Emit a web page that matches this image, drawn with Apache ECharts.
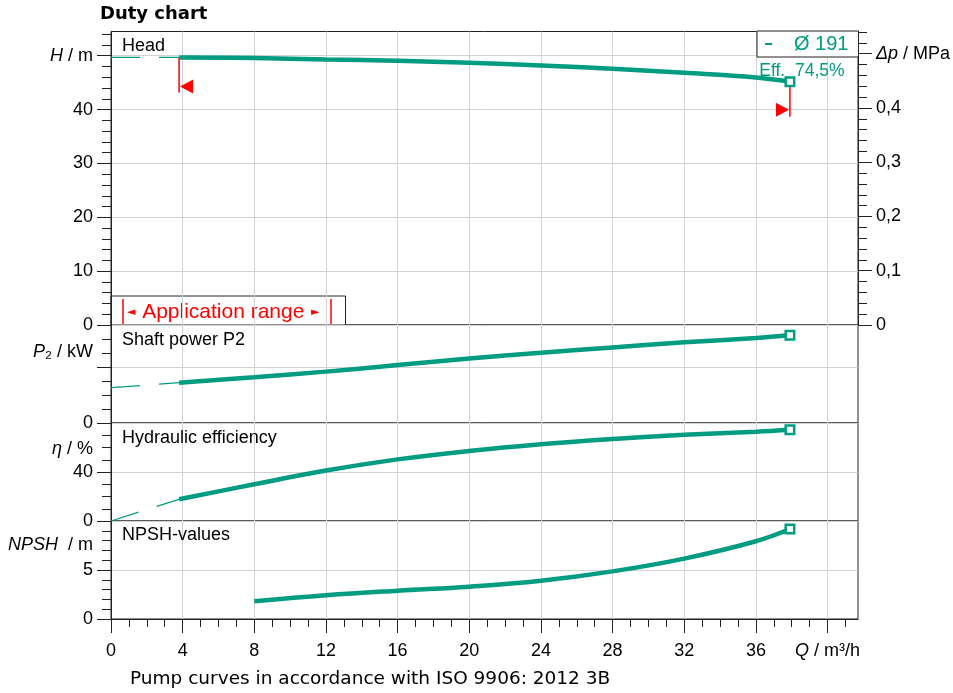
<!DOCTYPE html>
<html>
<head>
<meta charset="UTF-8">
<title>Duty chart</title>
<script src="https://cdn.jsdelivr.net/npm/echarts@6/dist/echarts.min.js"></script>
<style>html,body{margin:0;padding:0;background:#fff;}</style>
</head>
<body>
<div id="chart" style="width:953px;height:693px;"></div>
<script type="text/javascript">
// data
var qTicks = [0, 4, 8, 12, 16, 20, 24, 28, 32, 36, 40];
var hTicks = [0, 10, 20, 30, 40, 50];
var dpTicks = [0, 0.1, 0.2, 0.3, 0.4, 0.5];
var p2Ticks = [0, 4];
var etaTicks = [0, 40];
var npshTicks = [0, 5];

var qLow = [0, 3.8];                 // below application range (thin dashed)
var headLow = [49.68, 49.68];
var powerLow = [2.52, 2.88];
var effLow = [0, 17.7];

var qMain = [3.8, 8, 12, 16, 20, 24, 28, 32, 36, 37.9];
var headH = [49.68, 49.56, 49.31, 49.06, 48.69, 48.2, 47.58, 46.84, 45.97, 45.17];
var powerP2 = [2.88, 3.27, 3.67, 4.14, 4.6, 5.02, 5.4, 5.76, 6.07, 6.26];
var effEta = [17.7, 30.0, 41.2, 50.3, 57.2, 62.7, 67.0, 70.4, 72.9, 74.5];

var qNpsh = [8, 12, 16, 20, 24, 28, 32, 36, 37.9];
var npsh = [1.8, 2.42, 2.89, 3.3, 3.91, 4.86, 6.16, 7.93, 9.18];

// application range limits [Q, H, direction]
var appRange = [[3.8, 49.68, -1], [37.9, 45.17, 1]];

var TEAL = '#009c82';
var FONT = 'Liberation Sans';
var LINE = '#222';

var chart = echarts.init(document.getElementById('chart'));

function pts(xs, ys, endLabel) {
    var res = [];
    for (var i = 0; i < xs.length; i++) {
        res.push([xs[i], ys[i]]);
    }
    if (endLabel !== undefined) {
        var last = res.pop();
        var item = {
            value: last,
            symbol: 'rect',
            symbolSize: 8.5,
            itemStyle: {color: '#fff', borderColor: TEAL, borderWidth: 2.5}
        };
        if (endLabel) {
            item.label = {
                show: true, position: 'top', offset: [12, 9],
                formatter: endLabel, color: TEAL, fontSize: 17.5, fontFamily: FONT
            };
        }
        res.push(item);
    }
    return res;
}

var italic = {fontStyle: 'italic', fontSize: 18, fontFamily: FONT, color: '#000'};
var grids = [
    {top: 31.5, height: 293.5},
    {top: 325, height: 98},
    {top: 423, height: 98},
    {top: 521, height: 98}
];
grids.forEach(function (g) {
    g.left = 111; g.right = 95; g.show = true;
    g.borderColor = LINE; g.borderWidth = 1;
    g.backgroundColor = 'transparent';
    g.outerBoundsMode = 'none';
});

function xAxis(i) {
    var b = (i === 3);
    return {
        type: 'value', gridIndex: i, min: 0, max: 41.7, interval: 4,
        axisLine: {show: b, onZero: false, lineStyle: {color: LINE}},
        axisTick: {show: b, length: 14, customValues: qTicks, lineStyle: {color: LINE}},
        minorTick: {show: b, splitNumber: 4, length: 8, lineStyle: {color: LINE}},
        axisLabel: {
            show: b, customValues: qTicks, margin: 23, fontSize: 18, fontFamily: FONT, color: '#000',
            formatter: function (v) { return v === 40 ? '{i|Q} / m³/h' : String(v); },
            rich: {i: italic}
        },
        splitLine: {show: true, lineStyle: {color: '#d2d2d2'}}
    };
}

function yAxis(i, min, max, interval, minor, ticks, fmt, pos) {
    return {
        type: 'value', gridIndex: i, min: min, max: max, interval: interval,
        position: pos || 'left',
        axisLine: {show: true, lineStyle: {color: LINE}},
        axisTick: {show: true, length: 14, customValues: ticks, lineStyle: {color: LINE}},
        minorTick: {show: true, splitNumber: minor, length: 9, lineStyle: {color: LINE}},
        axisLabel: {
            customValues: ticks, margin: 18, fontSize: 18, fontFamily: FONT, color: '#000',
            formatter: fmt, rich: {i: italic}
        },
        splitLine: {show: pos !== 'right', lineStyle: {color: '#d2d2d2'}}
    };
}

function txt(x, y, text, opts) {
    var st = {
        text: text, fill: '#000', font: '18px ' + FONT,
        align: 'left', textAlign: 'left', verticalAlign: 'middle', textVerticalAlign: 'middle'
    };
    for (var k in opts) st[k] = opts[k];
    return {type: 'text', x: x, y: y, z: 100, style: st};
}

var richItalic = {i: {fontStyle: 'italic', fontSize: 18, fontFamily: FONT, fill: '#000'}};

function curve(xi, yi, data, thin) {
    var s = {
        type: 'line', xAxisIndex: xi, yAxisIndex: yi, data: data, silent: true,
        symbol: 'none', showSymbol: true, color: TEAL, z: 4
    };
    if (thin) {
        s.lineStyle = {color: TEAL, width: 1.3, type: [29, 19]};
    } else {
        s.smooth = 0.4;
        s.lineStyle = {color: TEAL, width: 4.5};
    }
    return s;
}

var headSeries = curve(0, 0, pts(qMain, headH, 'Eff.  74,5%'));
headSeries.name = 'Ø 191';

chart.setOption({
    backgroundColor: '#fff',
    animation: false,
    textStyle: {fontFamily: FONT},
    grid: grids,
    legend: {
        data: ['Ø 191'], left: 757, top: 31, selectedMode: false,
        backgroundColor: '#fff', borderColor: LINE, borderWidth: 1, borderRadius: 0,
        padding: [3, 10, 3, 8], icon: 'rect', itemWidth: 7, itemHeight: 2,
        textStyle: {fontSize: 20, color: TEAL, fontFamily: FONT, padding: [0, 0, 0, 17]}
    },
    xAxis: [xAxis(0), xAxis(1), xAxis(2), xAxis(3)],
    yAxis: [
        yAxis(0, 0, 54.5, 10, 5, hTicks, function (v) { return v === 50 ? '{i|H} / m' : String(v); }),
        yAxis(0, 0, 0.541, 0.1, 5, dpTicks, function (v) {
            if (Math.abs(v - 0.5) < 1e-9) return '{i|Δp} / MPa';
            return v === 0 ? '0' : v.toFixed(1).replace('.', ',');
        }, 'right'),
        yAxis(1, 0, 7, 4, 4, p2Ticks, function (v) { return v === 0 ? '0' : ''; }),
        yAxis(2, 0, 80, 40, 4, etaTicks, function (v) { return String(v); }),
        yAxis(3, 0, 10, 5, 5, npshTicks, function (v) { return String(v); })
    ],
    series: [
        curve(0, 0, pts(qLow, headLow), true),
        headSeries,
        {type: 'custom', xAxisIndex: 0, yAxisIndex: 0, data: appRange, silent: true, z: 3,
            renderItem: function (params, api) {
                var p = api.coord([api.value(0), api.value(1)]);
                var d = api.value(2), x = p[0], y = p[1];
                var tri = d < 0
                    ? [[x + 1, y + 29], [x + 14, y + 22], [x + 14, y + 36]]
                    : [[x - 1, y + 28], [x - 14, y + 21], [x - 14, y + 35]];
                return {type: 'group', children: [
                    {type: 'line', shape: {x1: x, y1: y, x2: x, y2: y + 35}, style: {stroke: '#ff0000', lineWidth: 1.5}},
                    {type: 'polygon', shape: {points: tri}, style: {fill: '#ff0000'}}
                ]};
            }},
        curve(1, 2, pts(qLow, powerLow), true),
        curve(1, 2, pts(qMain, powerP2, null)),
        curve(2, 3, pts(qLow, effLow), true),
        curve(2, 3, pts(qMain, effEta, null)),
        curve(3, 4, pts(qNpsh, npsh, null))
    ],
    graphic: [
        txt(100, 14, 'Duty chart', {font: 'bold 18px DejaVu Sans'}),
        txt(122, 46, 'Head'),
        txt(122, 340, 'Shaft power P2'),
        txt(122, 438, 'Hydraulic efficiency'),
        txt(122, 535, 'NPSH-values'),
        txt(93, 352, '{i|P}₂ / kW', {align: 'right', textAlign: 'right', rich: richItalic}),
        txt(93, 449, '{i|η} / %', {align: 'right', textAlign: 'right', rich: richItalic}),
        txt(93, 545, '{i|NPSH}  / m', {align: 'right', textAlign: 'right', rich: richItalic}),
        txt(130, 679, 'Pump curves in accordance with ISO 9906: 2012 3B', {font: '18.5px DejaVu Sans'}),
        {
            type: 'group', x: 111, y: 296, z: 90,
            children: [
                {type: 'rect', shape: {x: 0, y: 0, width: 234.5, height: 29}, style: {fill: '#fff', stroke: LINE, lineWidth: 1}},
                {type: 'line', shape: {x1: 12, y1: 3, x2: 12, y2: 28}, style: {stroke: '#ff0000', lineWidth: 1.5}},
                {type: 'line', shape: {x1: 220, y1: 3, x2: 220, y2: 28}, style: {stroke: '#ff0000', lineWidth: 1.5}},
                {type: 'text', x: 16, y: 16, style: {
                    text: '{a|◄}  {t|Application range}  {a|►}',
                    verticalAlign: 'middle', textVerticalAlign: 'middle',
                    rich: {
                        a: {fontSize: 11, fontFamily: 'DejaVu Sans', fill: '#ff0000'},
                        t: {fontSize: 21, fontFamily: FONT, fill: '#ff0000'}
                    }
                }}
            ]
        }
    ]
});
</script>
</body>
</html>
